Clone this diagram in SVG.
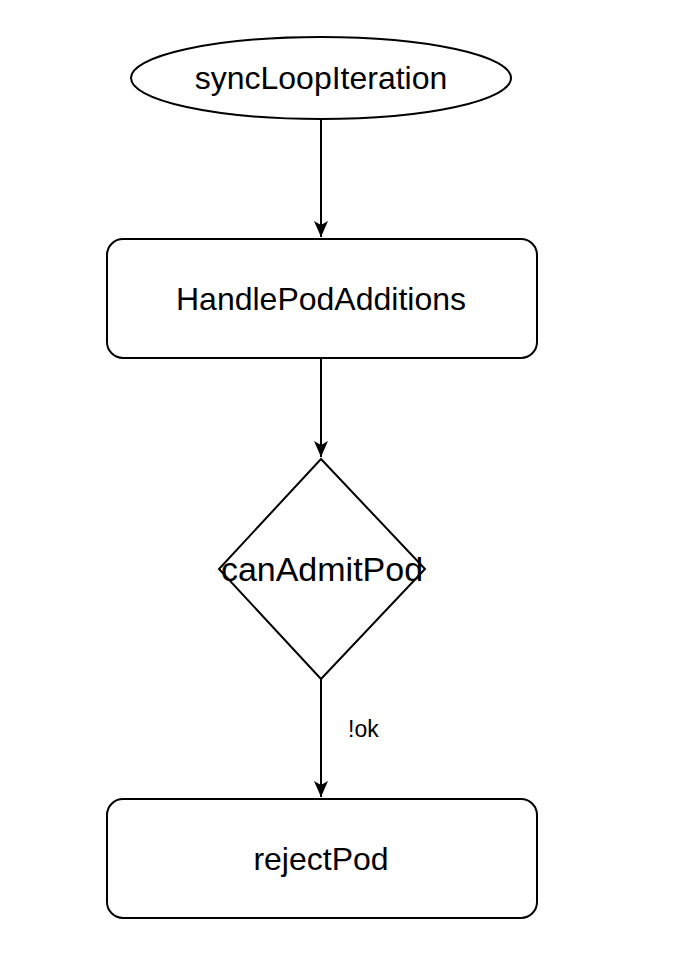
<svg xmlns="http://www.w3.org/2000/svg" width="686" height="976" viewBox="0 0 686 976">
<style>
.shape{fill:#fff;stroke:#000;stroke-width:2}
.lbl{font-family:"Liberation Sans",Arial,sans-serif;font-size:32px;fill:#000;text-anchor:middle}
.edge{fill:none;stroke:#000;stroke-width:2}
.elbl{font-family:"Liberation Sans",Arial,sans-serif;font-size:23px;fill:#000}
</style>
<defs>
<marker id="arr" markerUnits="userSpaceOnUse" markerWidth="16" markerHeight="18" viewBox="0 0 16 18" refX="16" refY="9" orient="auto">
<path d="M0,2 L16,9 L0,16 L4,9 Z" fill="#000"/>
</marker>
</defs>
<rect width="686" height="976" fill="#fff"/>
<g id="connectors">
<path class="edge" d="M321,119 L321,237" marker-end="url(#arr)"/>
<path class="edge" d="M321,358 L321,457" marker-end="url(#arr)"/>
<path class="edge" d="M321,679 L321,797" marker-end="url(#arr)"/>
<text class="elbl" x="348" y="737">!ok</text>
</g>
<g id="syncLoopIteration">
<ellipse class="shape" cx="321" cy="78" rx="190" ry="41"/>
<text class="lbl" x="321" y="89">syncLoopIteration</text>
</g>
<g id="HandlePodAdditions">
<rect class="shape" x="107" y="239" width="430" height="119" rx="16"/>
<text class="lbl" x="321" y="310">HandlePodAdditions</text>
</g>
<g id="canAdmitPod">
<polygon class="shape" points="321,459 425,569 321,679 219,569"/>
<text class="lbl" x="322" y="581" style="font-size:34px">canAdmitPod</text>
</g>
<g id="rejectPod">
<rect class="shape" x="107" y="799" width="430" height="119" rx="16"/>
<text class="lbl" x="321" y="870">rejectPod</text>
</g>
</svg>
